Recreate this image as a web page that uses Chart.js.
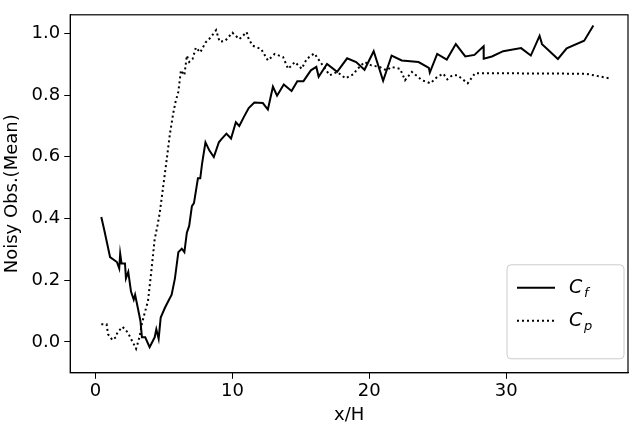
<!DOCTYPE html>
<html>
<head>
<meta charset="utf-8">
<script src="https://cdn.jsdelivr.net/npm/chart.js@4"></script>
<style>
  html, body { margin: 0; padding: 0; background: #fff; }
  #wrap { width: 640px; height: 426px; }
</style>
</head>
<body>
<div id="wrap"><canvas id="chart" width="640" height="426"></canvas></div>
<script>
const cfX = [0.42, 0.62, 1.06, 1.56, 1.73, 1.80, 1.90, 2.15, 2.22, 2.39, 2.59, 2.79, 2.89, 3.09, 3.28, 3.39, 3.63, 3.95, 4.32, 4.44, 4.61, 4.76, 5.06, 5.31, 5.56, 5.80, 6.05, 6.30, 6.49, 6.67, 6.84, 7.04, 7.19, 7.48, 7.65, 7.78, 8.03, 8.32, 8.64, 9.01, 9.20, 9.56, 9.90, 10.25, 10.5, 10.86, 11.19, 11.6, 12.22, 12.59, 12.96, 13.26, 13.75, 14.32, 14.74, 15.19, 15.73, 16.13, 16.3, 16.91, 17.65, 18.38, 19.04, 19.65, 20.32, 21.01, 21.63, 22.37, 23.6, 24.35, 24.42, 24.96, 25.66, 26.32, 27.01, 27.68, 28.35, 28.36, 28.96, 29.78, 31.09, 31.8, 32.44, 32.62, 33.78, 34.42, 35.7, 36.37];
const cfY = [0.405, 0.366, 0.275, 0.259, 0.238, 0.286, 0.254, 0.254, 0.206, 0.227, 0.163, 0.137, 0.153, 0.110, 0.068, 0.015, 0.015, -0.017, 0.015, 0.041, 0.010, 0.079, 0.110, 0.132, 0.153, 0.206, 0.291, 0.302, 0.291, 0.354, 0.376, 0.440, 0.450, 0.530, 0.530, 0.577, 0.647, 0.620, 0.599, 0.647, 0.657, 0.675, 0.659, 0.712, 0.700, 0.731, 0.758, 0.776, 0.774, 0.753, 0.827, 0.798, 0.834, 0.813, 0.845, 0.845, 0.880, 0.891, 0.859, 0.901, 0.875, 0.919, 0.907, 0.882, 0.942, 0.846, 0.928, 0.912, 0.907, 0.888, 0.873, 0.933, 0.915, 0.965, 0.925, 0.930, 0.958, 0.918, 0.925, 0.942, 0.952, 0.928, 0.992, 0.965, 0.917, 0.951, 0.976, 1.025];

const cpX = [0.42, 0.81, 0.91, 1.24, 1.48, 1.6, 1.97, 2.35, 2.72, 2.96, 3.21, 3.38, 3.53, 3.83, 4.07, 4.32, 4.52, 4.69, 4.94, 5.19, 5.43, 5.68, 5.85, 6.05, 6.24, 6.49, 6.67, 6.84, 7.09, 7.33, 7.65, 8.03, 8.4, 8.81, 9.06, 9.46, 10.0, 10.5, 11.04, 11.19, 11.48, 12.1, 12.59, 13.09, 13.7, 14.07, 14.57, 15.06, 15.43, 15.98, 16.42, 17.11, 17.65, 18.27, 18.9, 19.04, 19.65, 20.15, 20.76, 21.26, 21.63, 22.25, 22.61, 23.11, 23.85, 24.47, 24.96, 25.41, 25.7, 26.07, 26.44, 27.19, 27.73, 35.83, 37.56];
const cpY = [0.057, 0.057, 0.025, 0.006, 0.015, 0.031, 0.049, 0.031, -0.001, -0.022, 0.015, 0.057, 0.084, 0.132, 0.227, 0.333, 0.376, 0.418, 0.503, 0.588, 0.673, 0.742, 0.779, 0.811, 0.880, 0.864, 0.928, 0.907, 0.917, 0.954, 0.938, 0.970, 0.986, 1.010, 0.973, 0.975, 1.002, 0.981, 1.004, 0.981, 0.960, 0.949, 0.912, 0.933, 0.923, 0.885, 0.907, 0.885, 0.917, 0.935, 0.907, 0.864, 0.875, 0.854, 0.869, 0.880, 0.907, 0.896, 0.891, 0.880, 0.891, 0.885, 0.848, 0.875, 0.848, 0.838, 0.859, 0.869, 0.851, 0.864, 0.864, 0.838, 0.871, 0.869, 0.854];

const xTicks = [0, 10, 20, 30];
const yTicks = [0.0, 0.2, 0.4, 0.6, 0.8, 1.0];

const toPts = (xs, ys) => xs.map((x, i) => ({ x, y: ys[i] }));
const font = { family: "DejaVu Sans", size: 18 };

const frame = {
    id: "frame",
    afterDraw(chart) {
        const { ctx, chartArea: a } = chart;
        ctx.save();
        ctx.strokeStyle = "#000";
        ctx.lineWidth = 1.2;
        ctx.strokeRect(a.left, a.top, a.right - a.left, a.bottom - a.top);

        // legend box, lower right
        const bx = a.right - 121, by = a.bottom - 108, bw = 117, bh = 94;
        ctx.fillStyle = "#fff";
        ctx.strokeStyle = "#ccc";
        ctx.lineWidth = 1;
        ctx.beginPath();
        ctx.roundRect(bx, by, bw, bh, 4);
        ctx.fill();
        ctx.stroke();
        const rows = [["f", []], ["p", [2, 3]]];
        rows.forEach(([sub, dash], i) => {
            const y = by + 23 + i * 33;
            ctx.strokeStyle = "#000";
            ctx.lineWidth = 2;
            ctx.setLineDash(dash);
            ctx.beginPath();
            ctx.moveTo(bx + 10, y);
            ctx.lineTo(bx + 48, y);
            ctx.stroke();
            ctx.setLineDash([]);
            ctx.fillStyle = "#000";
            ctx.textBaseline = "middle";
            ctx.font = "italic 19px 'DejaVu Sans'";
            ctx.fillText("C", bx + 62, y);
            ctx.font = "italic 13px 'DejaVu Sans'";
            ctx.fillText(sub, bx + 77, y + 6);
        });
        ctx.restore();
    },
};

new Chart(document.getElementById("chart").getContext("2d"), {
    type: "scatter",
    data: {
        datasets: [
            { label: "Cf", data: toPts(cfX, cfY), showLine: true, borderColor: "#000", borderWidth: 2, pointRadius: 0, tension: 0 },
            { label: "Cp", data: toPts(cpX, cpY), showLine: true, borderColor: "#000", borderWidth: 2, borderDash: [2, 3], pointRadius: 0, tension: 0 },
        ],
    },
    options: {
        responsive: false,
        animation: false,
        layout: { padding: { top: 0, right: 12, left: 2, bottom: 0 } },
        plugins: { legend: { display: false }, tooltip: { enabled: false } },
        scales: {
            x: {
                type: "linear",
                min: -1.85,
                max: 38.9,
                afterBuildTicks: (s) => { s.ticks = xTicks.map((v) => ({ value: v })); },
                ticks: { color: "#000", font, maxRotation: 0, padding: 2, callback: (v) => String(v) },
                grid: { drawOnChartArea: false, color: "#000", tickLength: 6 },
                border: { color: "#000" },
                title: { display: true, text: "x/H", color: "#000", font, padding: { top: 0, bottom: 0 } },
            },
            y: {
                min: -0.1,
                max: 1.06,
                afterBuildTicks: (s) => { s.ticks = yTicks.map((v) => ({ value: v })); },
                ticks: { color: "#000", font, padding: 4, callback: (v) => v.toFixed(1) },
                grid: { drawOnChartArea: false, color: "#000", tickLength: 6 },
                border: { color: "#000" },
                title: { display: true, text: "Noisy Obs.(Mean)", color: "#000", font, padding: { top: 0, bottom: 4 } },
            },
        },
    },
    plugins: [frame],
});
</script>
</body>
</html>
